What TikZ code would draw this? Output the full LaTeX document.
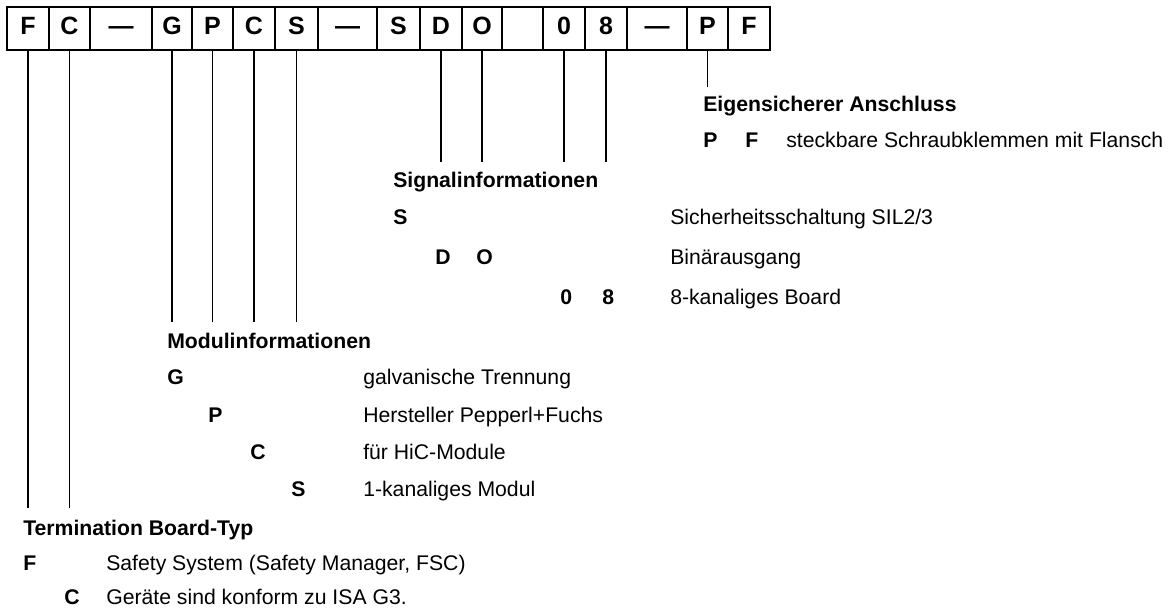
\documentclass[tikz,border=0pt]{standalone}
\usepackage{fontspec}
\setmainfont{Liberation Sans}
\begin{document}
\begin{tikzpicture}[x=0.75pt,y=-0.75pt,
  cell/.style={draw, line width=1.5pt, minimum height=43*0.75pt, inner sep=0pt, outer sep=0pt,
    text height=13.4pt, text depth=3.65pt,
    font=\fontsize{18.75pt}{20pt}\selectfont\bfseries},
  tick/.style={line width=1.1pt},
  lbl/.style={anchor=base west, inner sep=0pt, font=\fontsize{15.9pt}{18pt}\selectfont},
  hd/.style={anchor=base west, inner sep=0pt, font=\fontsize{15.9pt}{18pt}\selectfont\bfseries}]
\useasboundingbox (0,0) rectangle (1168,613);
\fill[white] (0,0) rectangle (1168,613);
% code cells
\foreach \cx/\w/\t [count=\i] in {28/42/F, 69.5/41/C, 121/62/—, 172/40/G, 212.5/41/P, 254/42/C, 296.5/43/S, 347.5/59/—, 398.5/43/S, 441/42/D, 482/40/O, 522.5/41/{}, 564/42/0, 606/42/8, 657/60/—, 707.5/41/P, 749/42/F}
  \node[cell, minimum width=\w*0.75pt] (c\i) at (\cx,28.5) {\t};
% tick end points
\coordinate (e16) at (707.5,87);
\coordinate (e10) at (441,162);
\coordinate (e11) at (482,162);
\coordinate (e13) at (564,162);
\coordinate (e14) at (606,162);
\coordinate (e4) at (172,322);
\coordinate (e5) at (212.5,322);
\coordinate (e6) at (254,322);
\coordinate (e7) at (296.5,322);
\coordinate (e1) at (28,508);
\coordinate (e2) at (69.5,508);
\foreach \i in {16,10,11,13,14,4,5,6,7,1,2}
  \draw[tick] (c\i.south) -- (e\i);
% Eigensicherer Anschluss
\node[hd] (h1) at (703,112) {Eigensicherer Anschluss};
\node[hd] (p1) at (703,148) {P};
\node[hd] (p2) at (745,148) {F};
\node[lbl] (p3) at (786,148) {steckbare Schraubklemmen mit Flansch};
% Signalinformationen
\node[hd] (h2) at (393,188) {Signalinformationen};
\node[hd] (s1) at (393,225) {S};
\node[lbl] (s2) at (670,225) {Sicherheitsschaltung SIL2/3};
\node[hd] (d1) at (435,264) {D};
\node[hd] (d2) at (476,264) {O};
\node[lbl] (d3) at (670,264) {Binärausgang};
\node[hd] (n1) at (560,304) {0};
\node[hd] (n2) at (602,304) {8};
\node[lbl] (n3) at (670,304) {8-kanaliges Board};
% Modulinformationen
\node[hd] (h3) at (167,348) {Modulinformationen};
\node[hd] (m1) at (167,384) {G};
\node[lbl] (m2) at (363,384) {galvanische Trennung};
\node[hd] (m3) at (208,422) {P};
\node[lbl] (m4) at (363,422) {Hersteller Pepperl+Fuchs};
\node[hd] (m5) at (250,459) {C};
\node[lbl] (m6) at (363,459) {für HiC-Module};
\node[hd] (m7) at (291,496) {S};
\node[lbl] (m8) at (363,496) {1-kanaliges Modul};
% Termination Board-Typ
\node[hd] (h4) at (23,535) {Termination Board-Typ};
\node[hd] (t1) at (23,570) {F};
\node[lbl] (t2) at (106,570) {Safety System (Safety Manager, FSC)};
\node[hd] (t3) at (64,604) {C};
\node[lbl] (t4) at (106,604) {Geräte sind konform zu ISA G3.};
\end{tikzpicture}
\end{document}
